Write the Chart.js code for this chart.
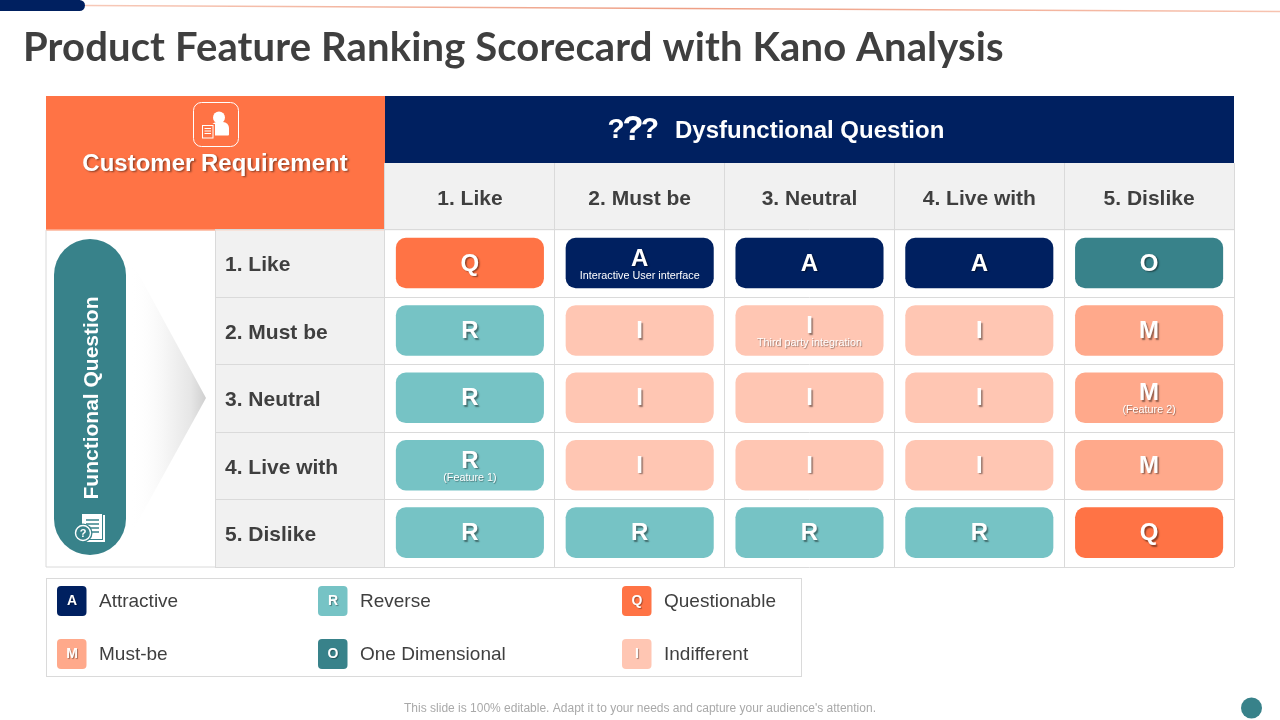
<!DOCTYPE html>
<html><head><meta charset="utf-8"><title>Kano Scorecard</title>
<style>html,body{margin:0;padding:0;background:#fff}canvas{display:block}</style>
<script src="https://cdn.jsdelivr.net/npm/chart.js@4"></script></head>
<body><canvas id="c" width="1280" height="720"></canvas>
<script>
const titleText = 'Product Feature Ranking Scorecard with Kano Analysis';
const footerText = "This slide is 100% editable. Adapt it to your needs and capture your audience's attention.";
const dysfunctionalLabels = ['1. Like','2. Must be','3. Neutral','4. Live with','5. Dislike'];
const functionalLabels = ['1. Like','2. Must be','3. Neutral','4. Live with','5. Dislike'];
const rowLike    = ['Q','A','A','A','O'];
const rowMustBe  = ['R','I','I','I','M'];
const rowNeutral = ['R','I','I','I','M'];
const rowLiveWith= ['R','I','I','I','M'];
const rowDislike = ['R','R','R','R','Q'];
const notesLike    = ['','Interactive User interface','','',''];
const notesMustBe  = ['','','Third party integration','',''];
const notesNeutral = ['','','','','(Feature 2)'];
const notesLiveWith= ['(Feature 1)','','','',''];
const notesDislike = ['','','','',''];
const legendCodes = ['A','R','Q','M','O','I'];
const legendNames = ['Attractive','Reverse','Questionable','Must-be','One Dimensional','Indifferent'];
const rows = [rowLike,rowMustBe,rowNeutral,rowLiveWith,rowDislike];
const notes = [notesLike,notesMustBe,notesNeutral,notesLiveWith,notesDislike];
const codeColors = {A:'#002060',R:'#76C3C5',Q:'#FF7345',M:'#FFA98B',O:'#38828A',I:'#FFC6B3'};
const gridColor = '#DADADA', inkColor = '#3F3F3F', teal = '#38828A', navy = '#002060', orange = '#FF7345';

function rr(ctx,x,y,w,h,r){ctx.beginPath();ctx.roundRect(x,y,w,h,r);}
function shadow(ctx,a,o,b){ctx.shadowColor='rgba(0,0,0,'+a+')';ctx.shadowOffsetX=o;ctx.shadowOffsetY=o;ctx.shadowBlur=b;}
function txt(ctx,s,x,y,font,color,align){ctx.font=font;ctx.fillStyle=color;ctx.textAlign=align||'left';ctx.textBaseline='middle';ctx.fillText(s,x,y);}

const backdrop = {
  id:'backdrop',
  beforeDraw(chart){
    const ctx=chart.ctx, a=chart.chartArea; ctx.save();
    ctx.fillStyle='#fff';ctx.fillRect(0,0,1280,720);
    // top decoration
    const g=ctx.createLinearGradient(85,0,1280,0);
    g.addColorStop(0,'#F7C9B8');g.addColorStop(.5,'#EE9F85');g.addColorStop(1,'#F7C3B0');
    ctx.strokeStyle=g;ctx.lineWidth=1.4;ctx.beginPath();ctx.moveTo(85,5.5);ctx.lineTo(1280,11.5);ctx.stroke();
    ctx.fillStyle=navy;rr(ctx,-10,0,95,11,[0,6,6,0]);ctx.fill();
    // title
    ctx.letterSpacing='0.13px';
    txt(ctx,titleText,23,48,'bold 40px Lato',inkColor);
    ctx.letterSpacing='0px';
    // header cells
    ctx.fillStyle=orange;ctx.fillRect(46,96,339,134.5);
    ctx.fillStyle=navy;ctx.fillRect(385,96,849,67);
    ctx.fillStyle='#F1F1F1';ctx.fillRect(385,163,849,67.5);
    ctx.fillRect(215,a.top,170,a.bottom-a.top);
    // table frame left part
    ctx.strokeStyle=gridColor;ctx.lineWidth=1;
    ctx.beginPath();ctx.moveTo(46,a.top);ctx.lineTo(46,a.bottom);ctx.lineTo(215,a.bottom);
    ctx.moveTo(215.5,a.top);ctx.lineTo(215.5,a.bottom);ctx.stroke();
    ctx.strokeStyle='#FBD3C4';ctx.beginPath();ctx.moveTo(46,a.top);ctx.lineTo(385,a.top);ctx.stroke();
    // arrow fade
    const t=ctx.createLinearGradient(130,0,206,0);
    t.addColorStop(0,'rgba(255,255,255,0)');t.addColorStop(.45,'#F6F6F6');t.addColorStop(.8,'#E6E6E6');t.addColorStop(1,'#CFCFCF');
    ctx.fillStyle=t;ctx.beginPath();ctx.moveTo(132,262);ctx.lineTo(206,398);ctx.lineTo(132,532);ctx.closePath();ctx.fill();
    // functional pill
    ctx.fillStyle=teal;rr(ctx,54,239,72,316,36);ctx.fill();
    ctx.save();ctx.translate(92.5,398);ctx.rotate(-Math.PI/2);
    txt(ctx,'Functional Question',0,0,'bold 21px "Liberation Sans"','#fff','center');ctx.restore();
    docIcon(ctx);
    // customer header
    ctx.strokeStyle='#fff';ctx.lineWidth=1;rr(ctx,193.5,102.5,45,44,8);ctx.stroke();
    personIcon(ctx);
    ctx.save();shadow(ctx,.45,1.5,2);
    txt(ctx,'Customer Requirement',215,164,'bold 24px "Liberation Sans"','#fff','center');ctx.restore();
    // dysfunctional header
    txt(ctx,'?',616,130,'bold 28px "Liberation Sans"','#fff','center');
    txt(ctx,'?',633,130,'bold 35px "Liberation Sans"','#fff','center');
    txt(ctx,'?',650,130,'bold 30px "Liberation Sans"','#fff','center');
    txt(ctx,'Dysfunctional Question',675,131,'bold 24px "Liberation Sans"','#fff');
    ctx.restore();
  },
  afterDraw(chart){
    const ctx=chart.ctx; ctx.save();
    // cell letters and notes, anchored on the bars the library laid out
    rows.forEach((row,r)=>{
      const meta=chart.getDatasetMeta(r);
      row.forEach((code,c)=>{
        const bar=meta.data[c], cy=(bar.y+bar.base)/2, note=notes[r][c];
        ctx.save();shadow(ctx,.45,1.5,1.5);
        txt(ctx,code,bar.x,cy+(note?-4:1),'bold 24px "Liberation Sans"','#fff','center');
        if(note){shadow(ctx,code==='A'?0:.4,.8,1);txt(ctx,note,bar.x,cy+12.5,'10.8px "Liberation Sans"','#fff','center');}
        ctx.restore();
      });
    });
    // legend
    ctx.strokeStyle=gridColor;ctx.lineWidth=1;ctx.strokeRect(46.5,578.5,755,98);
    const xs=[57,318,622], ys=[586,639];
    legendCodes.forEach((code,i)=>{
      const x=xs[i%3], y=ys[Math.floor(i/3)];
      ctx.fillStyle=codeColors[code];rr(ctx,x,y,29.5,30,4);ctx.fill();
      ctx.save();shadow(ctx,.35,1,1);txt(ctx,code,x+15,y+15.5,'bold 14px "Liberation Sans"','#fff','center');ctx.restore();
      txt(ctx,legendNames[i],x+42,y+16,'19px "Liberation Sans"',inkColor);
    });
    // footer
    txt(ctx,footerText,640,708.5,'12px "Liberation Sans"','#A9A9A9','center');
    ctx.fillStyle=teal;ctx.beginPath();ctx.arc(1251.5,708,10.5,0,Math.PI*2);ctx.fill();
    ctx.restore();
  }
};
function personIcon(ctx){
  ctx.fillStyle='#fff';
  ctx.beginPath();ctx.arc(219,117.5,6,0,Math.PI*2);ctx.fill();
  rr(ctx,211,122,18,13.5,[6,6,1,1]);ctx.fill();
  ctx.fillStyle=orange;ctx.fillRect(201,124,14,15);
  ctx.strokeStyle='#fff';ctx.lineWidth=1;ctx.strokeRect(202.5,125.5,10.5,12.5);
  ctx.beginPath();for(const y of [128.5,131,133.5]){ctx.moveTo(204.5,y);ctx.lineTo(211,y);}ctx.stroke();
}
function docIcon(ctx){
  ctx.fillStyle='#fff';ctx.fillRect(83,515,22,27);
  ctx.strokeStyle=teal;ctx.lineWidth=1;ctx.strokeRect(81.5,513.5,21,26);
  ctx.fillStyle='#fff';ctx.fillRect(82,514,20,25);
  ctx.strokeStyle=teal;ctx.lineWidth=1.3;ctx.beginPath();
  for(const y of [520,524,528,532]){ctx.moveTo(86,y);ctx.lineTo(99,y);}ctx.stroke();
  ctx.fillStyle=teal;ctx.beginPath();ctx.arc(83,533,9.5,0,Math.PI*2);ctx.fill();
  ctx.strokeStyle='#fff';ctx.lineWidth=1.4;ctx.beginPath();ctx.arc(83,533,7.5,0,Math.PI*2);ctx.stroke();
  txt(ctx,'?',83,533.5,'bold 11px "Liberation Sans"','#fff','center');
}

new Chart(document.getElementById('c'),{
  type:'bar',
  plugins:[backdrop],
  data:{
    labels:dysfunctionalLabels,
    datasets:rows.map((row,r)=>({
      label:functionalLabels[r],
      data:row.map(()=>[r+0.115,r+0.865]),
      backgroundColor:row.map(code=>codeColors[code]),
      borderRadius:10,borderSkipped:false,
      barPercentage:0.872,categoryPercentage:1,grouped:false
    }))
  },
  options:{
    responsive:false,animation:false,devicePixelRatio:1,
    layout:{padding:{left:225,right:46,top:163,bottom:153}},
    plugins:{legend:{display:false},tooltip:{enabled:false},title:{display:false}},
    scales:{
      x:{
        position:'top',
        grid:{offset:true,color:gridColor,lineWidth:1,tickLength:67},
        border:{display:false},
        ticks:{color:inkColor,font:{family:'"Liberation Sans"',size:21,weight:'bold'},padding:-49,maxRotation:0,autoSkip:false},
        afterFit(s){s.height=67;}
      },
      y:{type:'linear',min:0,max:5,reverse:true,display:false},
      rowsAxis:{
        type:'category',labels:functionalLabels,position:'left',offset:true,
        grid:{offset:true,color:gridColor,lineWidth:1,tickLength:170},
        border:{display:false},
        ticks:{color:inkColor,font:{family:'"Liberation Sans"',size:21,weight:'bold'},crossAlign:'far',autoSkip:false,labelOffset:2},
        afterFit(s){s.width=160;}
      }
    }
  }
});
</script></body></html>
